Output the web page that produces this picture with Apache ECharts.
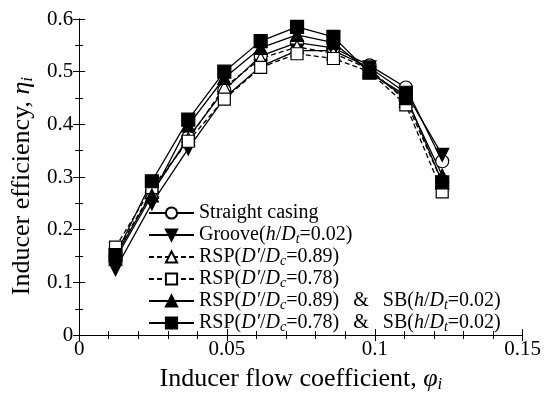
<!DOCTYPE html>
<html>
<head>
<meta charset="utf-8">
<script src="https://cdn.jsdelivr.net/npm/echarts@6/dist/echarts.min.js"></script>
<style>html,body{margin:0;padding:0;background:#fff;}#c{width:544px;height:398px;}</style>
</head>
<body>
<div id="c"></div>
<script>
var phi = [0.0123, 0.0246, 0.0369, 0.0491, 0.0614, 0.0737, 0.0860, 0.0982, 0.1105, 0.1228];
var straight = [0.150, 0.270, 0.375, 0.465, 0.530, 0.555, 0.545, 0.512, 0.470, 0.330];
var groove   = [0.125, 0.250, 0.354, 0.450, 0.510, 0.540, 0.540, 0.508, 0.460, 0.342];
var rsp089   = [0.155, 0.272, 0.372, 0.470, 0.525, 0.547, 0.535, 0.505, 0.445, 0.290];
var rsp078   = [0.167, 0.280, 0.368, 0.448, 0.508, 0.534, 0.525, 0.500, 0.437, 0.272];
var rsp089sb = [0.145, 0.265, 0.398, 0.488, 0.545, 0.570, 0.555, 0.500, 0.450, 0.303];
var rsp078sb = [0.152, 0.292, 0.409, 0.500, 0.558, 0.585, 0.566, 0.498, 0.455, 0.290];
var names = ['Straight casing', 'Groove', 'RSP089', 'RSP078', 'RSP089SB', 'RSP078SB'];
var labels = {
  'Straight casing': 'Straight casing',
  'Groove': 'Groove({i|h}/{i|D}{sub|t}=0.02)',
  'RSP089': 'RSP({i|D′}/{i|D}{sub|c}=0.89)',
  'RSP078': 'RSP({i|D′}/{i|D}{sub|c}=0.78)',
  'RSP089SB': 'RSP({i|D′}/{i|D}{sub|c}=0.89){amp|&}SB({i|h}/{i|D}{sub|t}=0.02)',
  'RSP078SB': 'RSP({i|D′}/{i|D}{sub|c}=0.78){amp|&}SB({i|h}/{i|D}{sub|t}=0.02)'
};
var xTicks = [0, 0.05, 0.1, 0.15];
var yTicks = [0, 0.1, 0.2, 0.3, 0.4, 0.5, 0.6];

var FF = '"Liberation Serif", "Times New Roman", serif';
var downTri = 'path://M0,0 L10,0 L5,9 Z';
function pts(arr) { return phi.map(function (x, i) { return [x, arr[i]]; }); }
function mk(name, arr, symbol, dashed, size, empty) {
  return {
    name: name, type: 'line', data: pts(arr), symbol: symbol, symbolSize: size,
    lineStyle: { color: '#000', width: 1.3, type: dashed ? [5, 3] : 'solid' },
    itemStyle: { color: empty ? '#fff' : '#000', borderColor: '#000', borderWidth: 1.2 },
    emphasis: { disabled: true }, animation: false
  };
}
var LF = 20, LH = 22;
var rich = {
  i: { fontFamily: FF, fontStyle: 'italic', fontSize: LF, color: '#000', lineHeight: LH },
  sub: { fontFamily: FF, fontStyle: 'italic', fontSize: 14, color: '#000', lineHeight: LH, verticalAlign: 'bottom', padding: [6, 0, 0, 0] },
  amp: { fontFamily: FF, fontSize: LF, color: '#000', lineHeight: LH, padding: [0, 14, 0, 14] }
};
var nameRich = {
  i: { fontFamily: FF, fontStyle: 'italic', fontSize: 26, color: '#000', lineHeight: 28 },
  sub: { fontFamily: FF, fontStyle: 'italic', fontSize: 17, color: '#000', lineHeight: 28, verticalAlign: 'bottom', padding: [9, 0, 0, 0] }
};
var chart = echarts.init(document.getElementById('c'), null, { renderer: 'canvas' });
var tickStyle = { show: true, inside: true, length: 6, lineStyle: { color: '#000', width: 1 } };
var minorStyle = { show: true, length: 4, lineStyle: { color: '#000', width: 1 } };
chart.setOption({
  backgroundColor: '#fff',
  animation: false,
  grid: { left: 78, right: 20, top: 19, bottom: 61 },
  legend: {
    orient: 'vertical', left: 148, top: 202, padding: 0,
    itemWidth: 45, itemHeight: 14, itemGap: 0,
    data: names,
    formatter: function (n) { return labels[n]; },
    textStyle: { fontFamily: FF, fontSize: LF, color: '#000', lineHeight: LH, rich: rich },
    selectedMode: false
  },
  xAxis: [{
    type: 'value', min: 0, max: 0.15, interval: 0.05,
    axisLine: { show: true, onZero: false, lineStyle: { color: '#000', width: 1 } },
    axisTick: tickStyle, minorTick: Object.assign({ splitNumber: 5 }, minorStyle),
    splitLine: { show: false },
    axisLabel: { fontFamily: FF, fontSize: 21, color: '#000', margin: 4,
      formatter: function (v) { var t = xTicks.filter(function (a) { return Math.abs(a - v) < 1e-9; }); return t.length ? String(t[0]) : ''; } },
    name: 'Inducer flow coefficient, {i|φ}{sub|i}', nameLocation: 'middle', nameGap: 29,
    nameTextStyle: { fontFamily: FF, fontSize: 26, color: '#000', lineHeight: 28, rich: nameRich }
  }, {
    type: 'value', position: 'top', min: 0, max: 0.15, interval: 0.05,
    axisLine: { show: true, lineStyle: { color: '#000', width: 1 } },
    axisTick: tickStyle, minorTick: Object.assign({ splitNumber: 5 }, minorStyle),
    splitLine: { show: false }, axisLabel: { show: false }
  }],
  yAxis: [{
    type: 'value', min: 0, max: 0.6, interval: 0.1,
    axisLine: { show: true, onZero: false, lineStyle: { color: '#000', width: 1 } },
    axisTick: tickStyle, minorTick: Object.assign({ splitNumber: 2 }, minorStyle),
    splitLine: { show: false },
    axisLabel: { fontFamily: FF, fontSize: 21, color: '#000', margin: 6,
      formatter: function (v) { var t = yTicks.filter(function (a) { return Math.abs(a - v) < 1e-9; }); return t.length ? String(t[0]) : ''; } },
    name: 'Inducer efficiency, {i|η}{sub|i}', nameLocation: 'middle', nameGap: 36, nameRotate: 90,
    nameTextStyle: { fontFamily: FF, fontSize: 26, color: '#000', lineHeight: 28, rich: nameRich, padding: [0, 18, 0, 0] }
  }, {
    type: 'value', position: 'right', min: 0, max: 0.6, interval: 0.1,
    axisLine: { show: true, lineStyle: { color: '#000', width: 1 } },
    axisTick: tickStyle, minorTick: Object.assign({ splitNumber: 2 }, minorStyle),
    splitLine: { show: false }, axisLabel: { show: false }
  }],
  series: [
    mk('Straight casing', straight, 'circle', false, 13, true),
    mk('Groove', groove, downTri, false, 13, false),
    mk('RSP089', rsp089, 'triangle', true, 13, true),
    mk('RSP078', rsp078, 'rect', true, 12, true),
    mk('RSP089SB', rsp089sb, 'triangle', false, 13, false),
    mk('RSP078SB', rsp078sb, 'rect', false, 13, false)
  ]
});
</script>
</body>
</html>
